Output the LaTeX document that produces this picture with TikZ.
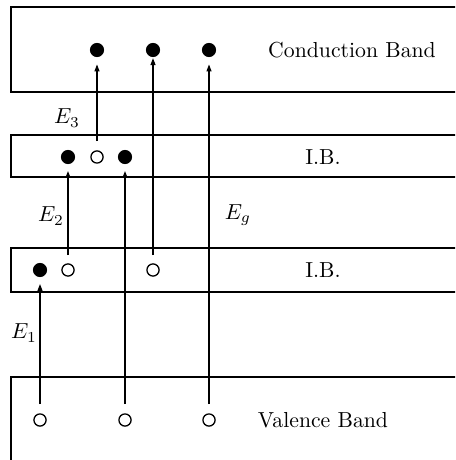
\documentclass[tikz,border=0pt]{standalone}
\usetikzlibrary{arrows.meta}
\begin{document}
\begin{tikzpicture}[x=0.46pt,y=-0.46pt,
  band/.style={draw,line width=0.5pt},
  elec/.style={circle,fill=black,inner sep=0pt,minimum size=6.5pt},
  hole/.style={circle,draw,line width=0.6pt,fill=white,inner sep=0pt,minimum size=5.6pt},
  trans/.style={-{Triangle[length=3.2pt,width=2.3pt]},line width=0.5pt},
  lbl/.style={inner sep=0pt}]
\useasboundingbox (0,0) rectangle (455,460);
\clip (0,0) rectangle (455,460);
% bands (open to the right)
\draw[band] (11,7) rectangle (470,92);
\draw[band] (11,135) rectangle (470,177);
\draw[band] (11,248) rectangle (470,292);
\draw[band] (11,377) rectangle (470,490);
% band labels
\node[lbl] (cbt) at (352,50) {Conduction Band};
\node[lbl] (ib1t) at (323,157) {I.B.};
\node[lbl] (ib2t) at (323,270) {I.B.};
\node[lbl] (vbt) at (323,420) {Valence Band};
% conduction band electrons
\node[elec] (c1) at (97,50) {};
\node[elec] (c2) at (153,50) {};
\node[elec] (c3) at (209,50) {};
% upper intermediate band
\node[elec] (a1) at (68,157) {};
\node[hole] (a2) at (97,157) {};
\node[elec] (a3) at (125,157) {};
% lower intermediate band
\node[elec] (b1) at (40,270) {};
\node[hole] (b2) at (68,270) {};
\node[hole] (b3) at (153,270) {};
% valence band holes
\node[hole] (v1) at (40,420) {};
\node[hole] (v2) at (125,420) {};
\node[hole] (v3) at (209,420) {};
% transitions
\draw[trans,shorten <=4.2pt,shorten >=3.2pt] (a2) -- (c1);
\draw[trans,shorten <=3.8pt,shorten >=0.3pt] (b3) -- (c2);
\draw[trans,shorten <=4.2pt,shorten >=3.2pt] (v3) -- (c3);
\draw[trans,shorten <=3.8pt,shorten >=3pt] (b2) -- (a1);
\draw[trans,shorten <=4.2pt,shorten >=3pt] (v2) -- (a3);
\draw[trans,shorten <=4.2pt,shorten >=3pt] (v1) -- (b1);
% energy labels
\node[lbl] (e3) at (67,118) {$E_3$};
\node[lbl] (e2) at (51,216) {$E_2$};
\node[lbl] (eg) at (238,215) {$E_g$};
\node[lbl] (e1) at (24,333) {$E_1$};
\end{tikzpicture}
\end{document}
